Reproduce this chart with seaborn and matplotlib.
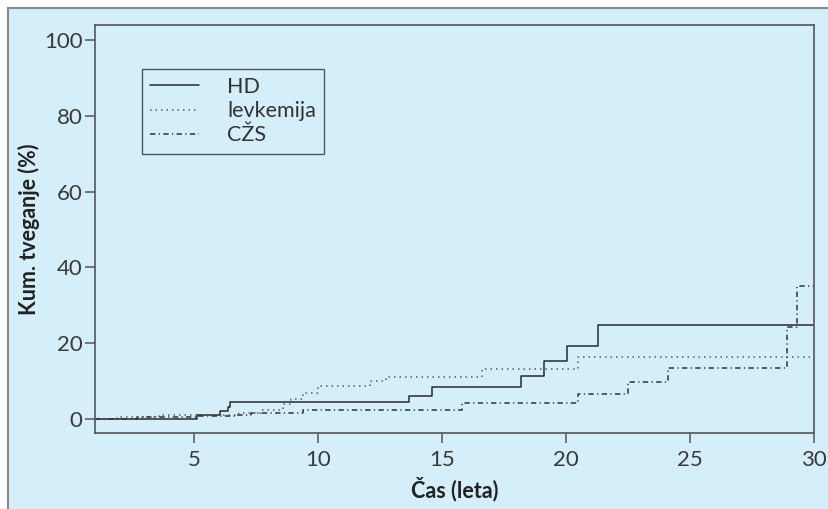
import matplotlib
matplotlib.use("Agg")
import matplotlib.pyplot as plt
import seaborn as sns
import pandas as pd
from matplotlib.patches import Rectangle
from matplotlib.lines import Line2D

# ---- data ----
hd_t = [1.0, 5.1, 6.05, 6.35, 6.45, 13.65, 14.6, 18.2, 19.1, 20.05, 21.3, 30.0]
hd_y = [0.0, 1.0, 2.1, 3.1, 4.4, 6.1, 8.3, 11.2, 15.3, 19.3, 24.7, 24.7]

lev_t = [1.0, 1.9, 3.6, 6.8, 7.7, 8.6, 8.9, 9.4, 10.0, 12.1, 12.75, 16.6, 20.5, 30.0]
lev_y = [0.0, 0.5, 1.0, 1.4, 2.4, 3.8, 5.1, 6.8, 8.7, 9.9, 11.1, 13.0, 16.2, 16.2]

czs_t = [1.0, 2.7, 5.1, 6.7, 7.3, 9.4, 15.8, 20.5, 22.5, 24.1, 28.9, 29.3, 30.0]
czs_y = [0.0, 0.3, 0.6, 1.0, 1.5, 2.4, 4.0, 6.5, 9.7, 13.4, 24.3, 35.1, 35.1]

groups = ["HD", "levkemija", "CŽS"]
x_ticks = [5, 10, 15, 20, 25, 30]
y_ticks = [0, 20, 40, 60, 80, 100]

df = pd.concat([
    pd.DataFrame({"t": hd_t, "y": hd_y, "g": "HD"}),
    pd.DataFrame({"t": lev_t, "y": lev_y, "g": "levkemija"}),
    pd.DataFrame({"t": czs_t, "y": czs_y, "g": "CŽS"}),
], ignore_index=True)

bg = "#d4eefa"
sns.set_style("ticks")
plt.rcParams["font.family"] = ["Lato", "DejaVu Sans"]

fig = plt.figure(figsize=(8.29, 5.09), dpi=100, facecolor="white")
fig.patches.append(Rectangle((8 / 829, 0), 1.0, 1 - 8 / 509, transform=fig.transFigure,
                             facecolor=bg, edgecolor="none", zorder=-10))
fig.lines.append(Line2D([8 / 829, 8 / 829], [0, 1 - 8 / 509], transform=fig.transFigure,
                        color="#8a8a8a", lw=1.5, zorder=-5))
fig.lines.append(Line2D([8 / 829, 1], [1 - 8 / 509, 1 - 8 / 509], transform=fig.transFigure,
                        color="#8a8a8a", lw=1.5, zorder=-5))

ax = fig.add_axes([95 / 829, 1 - 433 / 509, (814 - 95) / 829, (433 - 25) / 509])
ax.set_facecolor(bg)

palette = {"HD": "#2a2a2a", "levkemija": "#5a5a5a", "CŽS": "#333333"}
dashes = {"HD": "", "levkemija": (1, 2.6), "CŽS": (3.5, 2.2, 0.8, 2.2)}
sns.lineplot(data=df, x="t", y="y", hue="g", style="g", hue_order=groups, style_order=groups,
             palette=palette, dashes=dashes, drawstyle="steps-post", estimator=None,
             sort=False, lw=1.1, ax=ax, legend=False)

ax.set_xlim(1, 30)
ax.set_ylim(-3.8, 104)
ax.set_xticks(x_ticks)
ax.set_yticks(y_ticks)
for s in ax.spines.values():
    s.set_color("#555555")
    s.set_linewidth(1.2)
    s.set_visible(True)
ax.tick_params(axis="both", colors="#555555", length=7, width=1.1, labelsize=16,
               labelcolor="#3a3a3a")
ax.tick_params(axis="x", pad=5)
ax.tick_params(axis="y", pad=2)
ax.set_xlabel("Čas (leta)", fontsize=15.5, fontweight="bold", color="#222222", labelpad=5)
ax.set_ylabel("Kum. tveganje (%)", fontsize=15.5, fontweight="bold", color="#222222", labelpad=3)

handles = [Line2D([], [], color=palette["HD"], lw=1.1, linestyle="-"),
           Line2D([], [], color=palette["levkemija"], lw=1.1, dashes=dashes["levkemija"]),
           Line2D([], [], color=palette["CŽS"], lw=1.1, dashes=dashes["CŽS"])]
leg = ax.legend(handles, groups, loc="upper left", bbox_to_anchor=(0.065, 0.893),
                frameon=True, fancybox=False, fontsize=15.5, handlelength=2.3,
                handletextpad=1.3, labelspacing=0.2, borderpad=0.38, borderaxespad=0)
leg.get_frame().set_edgecolor("#333333")
leg.get_frame().set_facecolor(bg)
leg.get_frame().set_linewidth(1.0)
for t in leg.get_texts():
    t.set_color("#333333")

fig.savefig("out.png", dpi=100, facecolor="white")
